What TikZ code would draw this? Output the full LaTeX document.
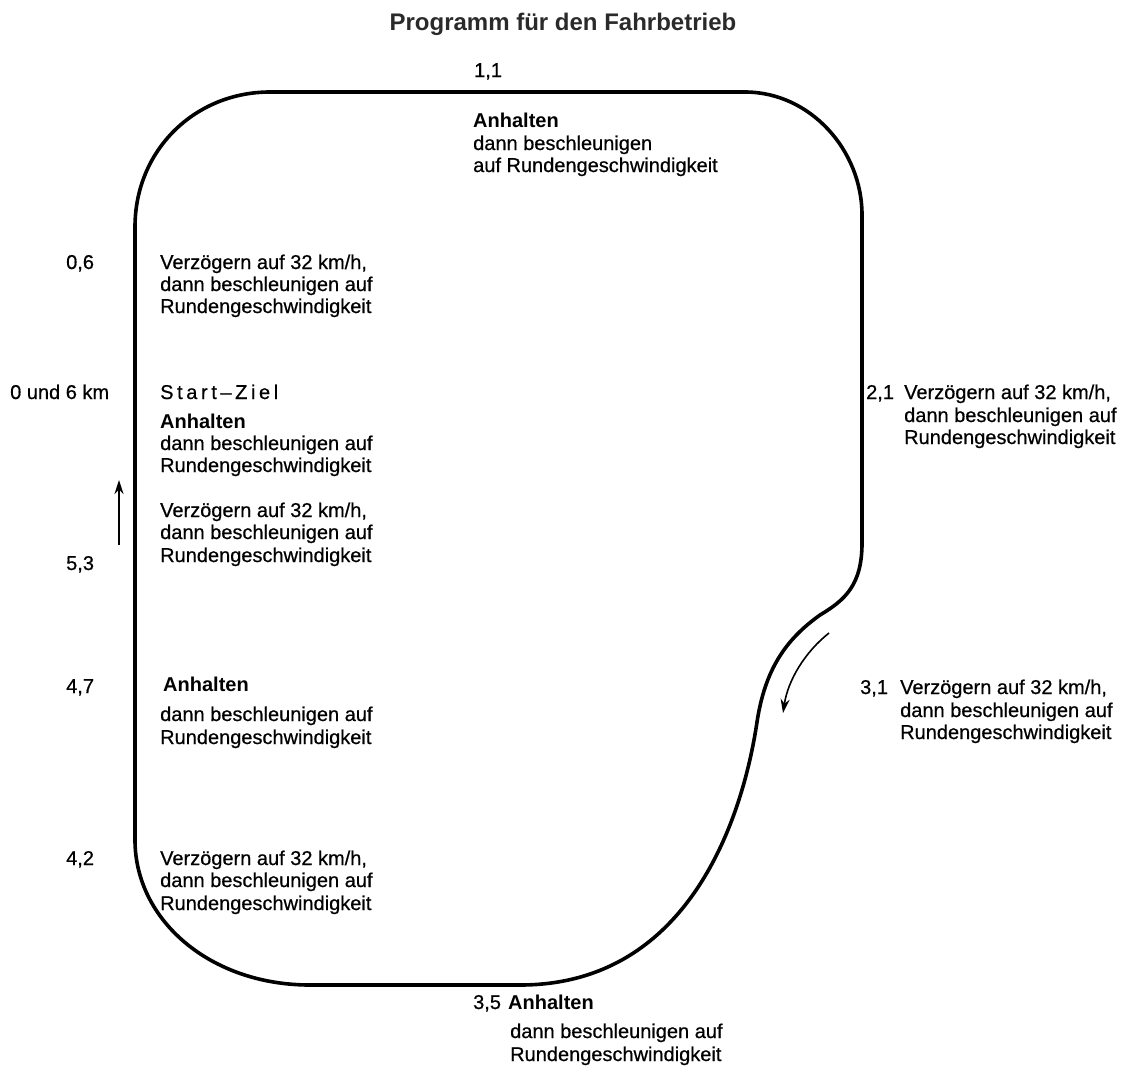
\documentclass[tikz,border=0pt]{standalone}
\usepackage{fontspec}
\setmainfont{Liberation Sans}
\usetikzlibrary{arrows.meta}
\definecolor{titlegray}{HTML}{2A2A2A}
\newcommand\lsp{\kern3.6pt}
\tikzset{
 lbl/.style={anchor=base west, inner sep=0pt, font=\fontsize{20}{22}\selectfont\addfontfeature{FakeBold=0.6}},
 blbl/.style={anchor=base west, inner sep=0pt, font=\fontsize{20}{22}\selectfont\bfseries},
 track/.style={line width=3.6pt, line join=round},
 dirarrow/.style={line width=1.6pt, -{Stealth[length=14pt,width=9pt]}}
}
\begin{document}
\begin{tikzpicture}[x=1pt,y=-1pt]
\useasboundingbox (0,0) rectangle (1126,1066);
% title
\node[anchor=base, inner sep=0pt, text=titlegray, font=\fontsize{24}{26}\selectfont\bfseries] (title) at (563,30) {Programm für den Fahrbetrieb};
% track
\draw[track] (270,92) -- (745,92)
  .. controls (810,92) and (862,150) .. (862,215)
  -- (862,543)
  .. controls (862,585) and (845,600) .. (820,615)
  .. controls (785,640) and (765,670) .. (757,722)
  .. controls (743,816) and (690,985) .. (520,985)
  -- (310,985)
  .. controls (210,985) and (135,920) .. (135,840)
  -- (135,227)
  .. controls (135,150) and (195,92) .. (270,92) -- cycle;
% direction arrows
\coordinate (la) at (119,545);
\coordinate (lb) at (119,480);
\draw[dirarrow] (la) -- (lb);
\coordinate (ra) at (829,633);
\coordinate (rb) at (783,713);
\draw[dirarrow] (ra) .. controls (805,652) and (788,680) .. (rb);
% 1,1
\node[lbl] (k11) at (474,77) {1,1};
\node[blbl] (t1a) at (473,127) {Anhalten};
\node[lbl] (t1b) at (473,150) {dann beschleunigen};
\node[lbl] (t1c) at (473,172) {auf Rundengeschwindigkeit};
% 0,6
\node[lbl] (k06) at (66,269) {0,6};
\node[lbl] (t2a) at (160,269) {Verzögern auf 32 km/h,};
\node[lbl] (t2b) at (160,291) {dann beschleunigen auf};
\node[lbl] (t2c) at (160,313) {Rundengeschwindigkeit};
% start
\node[lbl] (k0) at (10,399) {0 und 6 km};
\node[lbl] (sz) at (160,399) {S\lsp t\lsp a\lsp r\lsp t\lsp –\lsp Z\lsp i\lsp e\lsp l};
\node[blbl] (t3a) at (160,428) {Anhalten};
\node[lbl] (t3b) at (160,450) {dann beschleunigen auf};
\node[lbl] (t3c) at (160,472) {Rundengeschwindigkeit};
\node[lbl] (t4a) at (160,517) {Verzögern auf 32 km/h,};
\node[lbl] (t4b) at (160,539) {dann beschleunigen auf};
\node[lbl] (t4c) at (160,562) {Rundengeschwindigkeit};
\node[lbl] (k53) at (66,570) {5,3};
% 4,7
\node[lbl] (k47) at (66,693) {4,7};
\node[blbl] (t5a) at (163,691) {Anhalten};
\node[lbl] (t5b) at (160,721) {dann beschleunigen auf};
\node[lbl] (t5c) at (160,744) {Rundengeschwindigkeit};
% 4,2
\node[lbl] (k42) at (66,865) {4,2};
\node[lbl] (t6a) at (160,865) {Verzögern auf 32 km/h,};
\node[lbl] (t6b) at (160,887) {dann beschleunigen auf};
\node[lbl] (t6c) at (160,910) {Rundengeschwindigkeit};
% 2,1
\node[lbl] (k21) at (866,399) {2,1};
\node[lbl] (t7a) at (904,399) {Verzögern auf 32 km/h,};
\node[lbl] (t7b) at (904,422) {dann beschleunigen auf};
\node[lbl] (t7c) at (904,444) {Rundengeschwindigkeit};
% 3,1
\node[lbl] (k31) at (860,694) {3,1};
\node[lbl] (t8a) at (900,694) {Verzögern auf 32 km/h,};
\node[lbl] (t8b) at (900,717) {dann beschleunigen auf};
\node[lbl] (t8c) at (900,739) {Rundengeschwindigkeit};
% 3,5
\node[lbl] (k35) at (473,1009) {3,5};
\node[blbl] (t9a) at (508,1009) {Anhalten};
\node[lbl] (t9b) at (510,1038) {dann beschleunigen auf};
\node[lbl] (t9c) at (510,1061) {Rundengeschwindigkeit};
\end{tikzpicture}
\end{document}
